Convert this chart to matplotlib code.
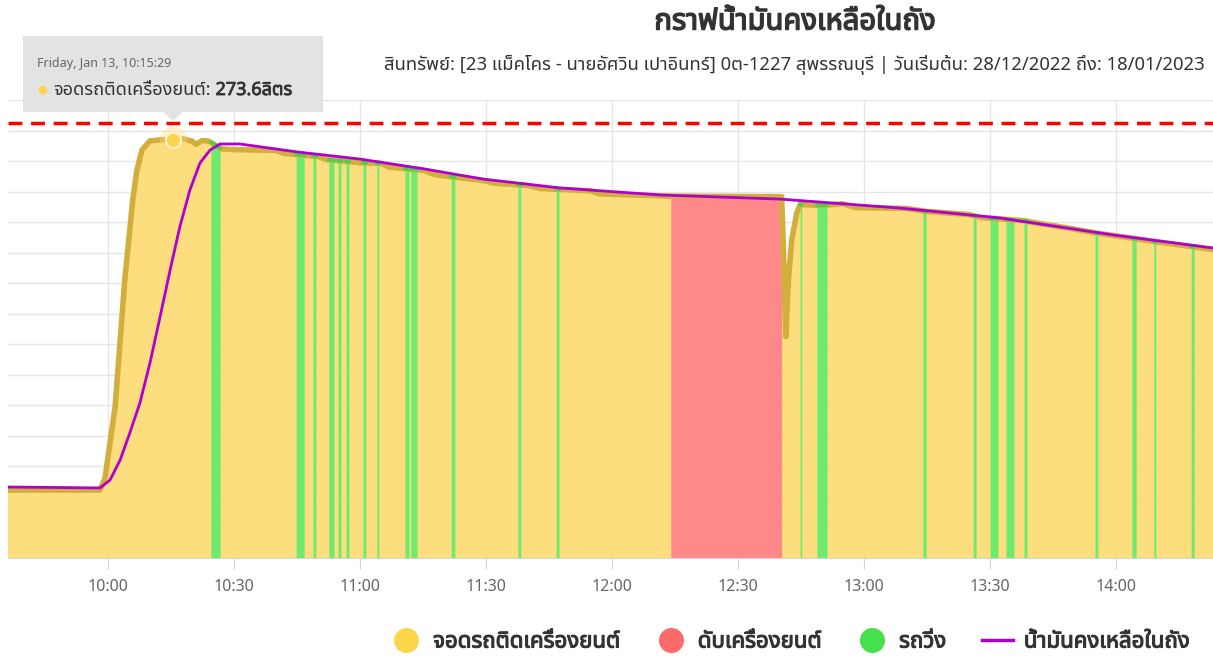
import matplotlib
matplotlib.use('Agg')
import matplotlib.pyplot as plt
import matplotlib.patheffects as pe
import numpy as np
from matplotlib import font_manager, ft2font
from matplotlib.lines import Line2D
from matplotlib.patches import FancyBboxPatch, Polygon


def find_thai_font():
    preferred = ['Noto Sans Thai', 'Noto Sans Thai UI', 'Noto Sans Thai Looped', 'Sarabun',
                 'Loma', 'Garuda', 'Waree', 'Umpush', 'Kinnari', 'Norasi', 'Tlwg Typo', 'FreeSans']
    found = []
    for f in font_manager.fontManager.ttflist:
        try:
            ft = ft2font.FT2Font(f.fname)
            if ft.get_char_index(0x0E01) and ft.get_char_index(0x0E33):
                found.append(f.name)
        except Exception:
            pass
    for p in preferred:
        if p in found:
            return p
    return found[0] if found else None


thai = find_thai_font()
plt.rcParams['font.family'] = [thai, 'DejaVu Sans'] if thai else ['DejaVu Sans']


def mins(s):
    parts = [int(p) for p in s.split(':')]
    return parts[0] * 60 + parts[1] + (parts[2] / 60 if len(parts) > 2 else 0)


# fuel level while parked with engine on (raw sensor line), liters
level_times = ['9:36', '9:58:06', '9:59:18', '10:01:42', '10:04:00', '10:05:54', '10:06:54',
               '10:08:06', '10:10', '10:13', '10:15:29', '10:18', '10:20', '10:21', '10:22:30',
               '10:24', '10:25', '10:27', '10:30', '10:40', '10:42',
               '10:50', '10:52', '11:00', '11:05', '11:07', '11:15', '11:18', '11:30',
               '11:32', '11:40', '11:43', '11:55', '11:57', '12:14', '12:40:24', '12:40:48',
               '12:41:24', '12:42:00', '12:42:48', '12:44:00', '12:44:48', '12:50', '12:55',
               '12:58', '13:10', '13:15', '13:25', '13:28', '13:38', '13:41', '13:50', '13:55',
               '14:05', '14:10', '14:18', '14:23']
level_values = [44.5, 44.5, 52.4, 98.9, 182.1, 234.5, 254.2,
                267.3, 273.2, 274, 273.6, 274.5, 273, 271, 273.5,
                273, 271.5, 268, 267.5, 267, 265,
                263, 261, 259, 258.5, 256, 254, 251, 247,
                245.5, 244, 242, 240.5, 238.5, 237, 236.7, 203.9,
                145, 182, 208.3, 226, 231.5, 231, 232,
                229.5, 229, 227, 225, 223, 221, 219.5, 215.5, 213,
                209, 207, 204, 202]

# smoothed remaining fuel
remain_times = ['9:36', '9:58:06', '10:00:30', '10:02:54', '10:05:12', '10:07:36', '10:10',
                '10:12:24', '10:14:48', '10:17:06', '10:19:30', '10:21:54', '10:24:18',
                '10:26:42', '10:31:24', '10:45', '11:00', '11:15', '11:29:18',
                '11:47:36', '12:11:24', '12:40', '13:08:36', '13:32:24', '13:59:18', '14:23']
remain_values = [46.5, 45.9, 51.1, 64.2, 81.9, 101.5, 127.7,
                 157.9, 188.6, 216.8, 241.0, 258.7, 267.2,
                 271.2, 271.2, 266, 261.3, 255, 248.2,
                 242.4, 237.8, 235.1, 229.2, 222.7, 211.6, 203.1]

# driving periods
moving_start = ['10:24:30', '10:44:48', '10:48:48', '10:52:36', '10:54:48', '10:56:42',
                '11:00:42', '11:04:00', '11:10:42', '11:12:06', '11:21:42', '11:37:36',
                '11:46:42', '12:44:48', '12:48:48', '13:14:00', '13:26:00', '13:30:00',
                '13:33:48', '13:38:06', '13:55:00', '14:03:48', '14:09:00', '14:17:54']
moving_end = ['10:26:42', '10:46:42', '10:49:30', '10:53:48', '10:55:30', '10:57:24',
              '11:01:24', '11:04:30', '11:11:42', '11:13:36', '11:22:36', '11:38:18',
              '11:47:24', '12:45:12', '12:51:12', '13:14:48', '13:26:42', '13:31:54',
              '13:35:42', '13:38:48', '13:55:42', '14:04:48', '14:09:30', '14:18:36']

# engine off period
off_start = ['12:14']
off_end = ['12:40:24']

tank_capacity = 285
hover_time = '10:15:29'
hover_value = 273.6

title = 'กราฟน้ำมันคงเหลือในถัง'
subtitle = ('สินทรัพย์: [23 แม็คโคร - นายอัศวิน เปาอินทร์] 0ต-1227 สุพรรณบุรี | '
            'วันเริ่มต้น: 28/12/2022 ถึง: 18/01/2023')
series_names = ['จอดรถติดเครื่องยนต์', 'ดับเครื่องยนต์', 'รถวิ่ง', 'น้ำมันคงเหลือในถัง']
tick_times = ['10:00', '10:30', '11:00', '11:30', '12:00', '12:30', '13:00', '13:30', '14:00']

lt = np.array([mins(t) for t in level_times])
lv = np.array(level_values)
rt = np.array([mins(t) for t in remain_times])
rv = np.array(remain_values)

YELLOW = '#FDDC74'
GOLD = '#D2AE3C'
GREEN = '#6EEB6E'
RED = '#FF8888'
PURPLE = '#B000D0'

fig = plt.figure(figsize=(12.13, 6.61), dpi=100)
ax = fig.add_axes([8 / 1213, 103 / 661, 1205 / 1213, 458 / 661])

ax.set_xlim(mins('9:36:12'), mins('14:23:06'))
ax.set_ylim(0, 300)
ax.set_yticks(np.arange(0, 301, 20))
ax.set_yticklabels([])
ax.tick_params(axis='y', length=0)
ticks = [mins(t) for t in tick_times]
ax.set_xticks(ticks)
ax.set_xticklabels(tick_times, color='#666666', fontsize=11.5)
ax.tick_params(axis='x', length=8, color='#ccd6eb', pad=7)
ax.grid(True, color='#e6e6e6', linewidth=1)
ax.set_axisbelow(True)
for s in ['top', 'right', 'left']:
    ax.spines[s].set_visible(False)
ax.spines['bottom'].set_color('#ccd6eb')

ax.fill_between(lt, 0, lv, color=YELLOW, alpha=0.92, linewidth=0, zorder=1)


def segment(t0, t1):
    inside = (lt > t0) & (lt < t1)
    ts = np.concatenate([[t0], lt[inside], [t1]])
    return ts, np.interp(ts, lt, lv)


for a, b in zip(moving_start, moving_end):
    ts, vs = segment(mins(a), mins(b))
    ax.fill_between(ts, 0, vs, color=GREEN, linewidth=0, zorder=2)
for a, b in zip(off_start, off_end):
    ts, vs = segment(mins(a), mins(b))
    ax.fill_between(ts, 0, vs, color=RED, linewidth=0, zorder=2)

ax.plot(lt, lv, color=GOLD, linewidth=4, solid_joinstyle='round', solid_capstyle='round', zorder=3)
for a, b in zip(moving_start, moving_end):
    ts, vs = segment(mins(a), mins(b))
    ax.plot(ts, vs, color='#4ccf4c', linewidth=2.5, zorder=3.5)
ax.plot(rt, rv, color=PURPLE, linewidth=2, zorder=4)
ax.axhline(tank_capacity, color='#ff0000', linewidth=2.5, dashes=(4, 2.5), zorder=5)

hx = mins(hover_time)
ax.plot(hx, hover_value, 'o', markersize=20, color='#FDDC74', alpha=0.35, zorder=6, markeredgewidth=0)
ax.plot(hx, hover_value, 'o', markersize=11, color='#FDD44E', markeredgecolor='#FFF3C8',
        markeredgewidth=1.5, zorder=7)

# tooltip
box = FancyBboxPatch((23 / 1213, 1 - 112 / 661), 300 / 1213, 76 / 661,
                     boxstyle='square,pad=0', transform=fig.transFigure,
                     facecolor='#e2e2e2', edgecolor='none', alpha=0.95, zorder=10)
fig.patches.append(box)
tri = Polygon([(163 / 1213, 1 - 112 / 661), (183 / 1213, 1 - 112 / 661), (173 / 1213, 1 - 121 / 661)],
              closed=True, transform=fig.transFigure, facecolor='#e2e2e2', edgecolor='none',
              alpha=0.95, zorder=10)
fig.patches.append(tri)
fig.text(37 / 1213, 1 - 64 / 661, 'Friday, Jan 13, 10:15:29', fontsize=9, color='#666666',
         va='center', ha='left', zorder=11)
fig.text(42 / 1213, 1 - 90 / 661, '●', fontsize=8, color='#FDD44E', va='center', ha='center', zorder=11)
name_txt = fig.text(53 / 1213, 1 - 90 / 661, f'{series_names[0]}:', fontsize=13, color='#333333',
                    va='center', ha='left', zorder=11)
renderer = fig.canvas.get_renderer()
bb = name_txt.get_window_extent(renderer)
fig.text((bb.x1 + 5) / 1213, 1 - 90 / 661, f'{hover_value}ลิตร', fontsize=13, color='#333333',
         va='center', ha='left', zorder=11, path_effects=[pe.withStroke(linewidth=0.6, foreground='#333333')])

fig.text(795 / 1213, 1 - 22 / 661, title, fontsize=21, color='#333333',
         ha='center', va='center', path_effects=[pe.withStroke(linewidth=1.1, foreground='#333333')])
fig.text(1205 / 1213, 1 - 65 / 661, subtitle, fontsize=13.3, color='#333333',
         ha='right', va='center')

handles = [
    Line2D([], [], marker='o', linestyle='none', markersize=17, color='#FCD64A'),
    Line2D([], [], marker='o', linestyle='none', markersize=17, color='#FF6B6B'),
    Line2D([], [], marker='o', linestyle='none', markersize=17, color='#45E04B'),
    Line2D([], [], color=PURPLE, linewidth=2.5),
]
leg = fig.legend(handles, series_names, loc='center right', bbox_to_anchor=(0.997, 1 - 642 / 661),
                 ncol=4, frameon=False, prop={'size': 16}, handlelength=1.4,
                 handletextpad=0.5, columnspacing=1.6, labelcolor='#333333')
for t in leg.get_texts():
    t.set_path_effects([pe.withStroke(linewidth=0.8, foreground='#333333')])

fig.savefig('out.png', dpi=100)
